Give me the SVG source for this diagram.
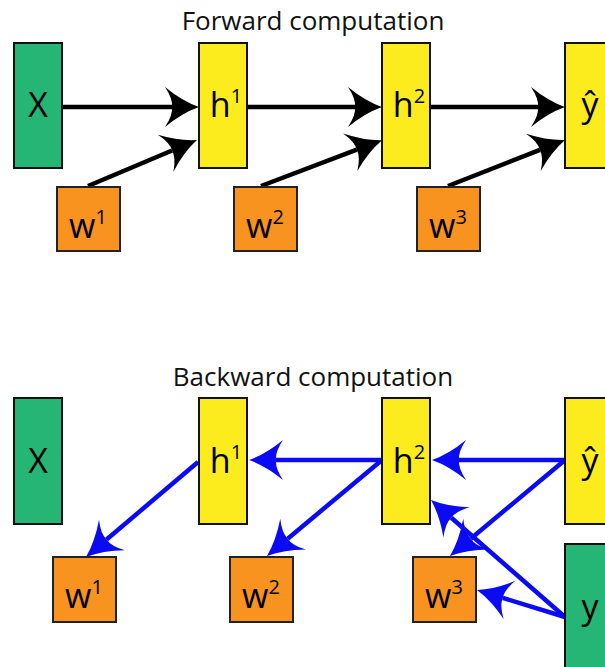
<svg xmlns="http://www.w3.org/2000/svg" width="605" height="667" viewBox="0 0 605 667">
<style>
.title{font-family:"Open Sans","Liberation Sans",sans-serif;font-size:26px;fill:#111;text-anchor:middle}
.lbl{font-family:"Open Sans","Liberation Sans",sans-serif;font-size:34px;fill:#000;text-anchor:middle}
.sup{font-size:20px}
.green{fill:#25b574;stroke:#111;stroke-width:2}
.yellow{fill:#fcec1e;stroke:#111;stroke-width:2}
.orange{fill:#f7931e;stroke:#222;stroke-width:2}
.fw{stroke:#000;stroke-width:4.5;fill:none;marker-end:url(#ab)}
.bw{stroke:#0a0af5;stroke-width:4.5;fill:none;marker-end:url(#au)}
</style>
<defs>
<marker id="ab" markerUnits="userSpaceOnUse" orient="auto" refX="0" refY="0" markerWidth="40" markerHeight="44" viewBox="-8 -22 40 44" overflow="visible">
<path d="M27 0 Q10 -6 -7 -20 Q1 -8 0 0 Q1 8 -7 20 Q10 6 27 0 Z" fill="#000"/>
</marker>
<marker id="au" markerUnits="userSpaceOnUse" orient="auto" refX="0" refY="0" markerWidth="40" markerHeight="44" viewBox="-8 -22 40 44" overflow="visible">
<path d="M27 0 Q10 -6 -7 -20 Q1 -8 0 0 Q1 8 -7 20 Q10 6 27 0 Z" fill="#0a0af5"/>
</marker>
</defs>

<text class="title" x="313" y="30">Forward computation</text>
<text class="title" x="313" y="386">Backward computation</text>

<g id="connectors">
<line class="fw" x1="62" y1="107" x2="172" y2="107"/>
<line class="fw" x1="247" y1="107" x2="355" y2="107"/>
<line class="fw" x1="430" y1="107" x2="538" y2="107"/>
<line class="fw" x1="88" y1="186" x2="172.1" y2="150.5"/>
<line class="fw" x1="261" y1="186" x2="356.8" y2="149.7"/>
<line class="fw" x1="448" y1="186" x2="539.9" y2="149.9"/>

<line class="bw" x1="565" y1="460" x2="459" y2="460"/>
<line class="bw" x1="382" y1="460" x2="276" y2="460"/>
<line class="bw" x1="198" y1="462" x2="106.6" y2="539.5"/>
<line class="bw" x1="382" y1="460" x2="287.7" y2="538.7"/>
<line class="bw" x1="565" y1="460" x2="470.7" y2="538.7"/>
<line class="bw" x1="565" y1="617" x2="451.3" y2="517.8"/>
<line class="bw" x1="565" y1="617" x2="502.8" y2="597.9"/>
</g>

<g id="f-x"><rect class="green" x="14" y="43" width="48" height="125"/><text class="lbl" x="38" y="117">X</text></g>
<g id="f-h1"><rect class="yellow" x="199" y="43" width="48" height="125"/><text class="lbl" x="226" y="117">h<tspan class="sup" dy="-14">1</tspan></text></g>
<g id="f-h2"><rect class="yellow" x="382" y="43" width="48" height="125"/><text class="lbl" x="409" y="117">h<tspan class="sup" dy="-14">2</tspan></text></g>
<g id="f-yhat"><rect class="yellow" x="565" y="43" width="48" height="125"/><text class="lbl" x="590" y="117">ŷ</text></g>
<g id="f-w1"><rect class="orange" x="57" y="187" width="63" height="64"/><text class="lbl" x="88" y="238">w<tspan class="sup" dy="-14">1</tspan></text></g>
<g id="f-w2"><rect class="orange" x="234" y="187" width="63" height="64"/><text class="lbl" x="265" y="238">w<tspan class="sup" dy="-14">2</tspan></text></g>
<g id="f-w3"><rect class="orange" x="417" y="187" width="63" height="64"/><text class="lbl" x="448" y="238">w<tspan class="sup" dy="-14">3</tspan></text></g>

<g id="b-x"><rect class="green" x="14" y="398" width="48" height="126"/><text class="lbl" x="38" y="473">X</text></g>
<g id="b-h1"><rect class="yellow" x="199" y="398" width="48" height="126"/><text class="lbl" x="226" y="473">h<tspan class="sup" dy="-14">1</tspan></text></g>
<g id="b-h2"><rect class="yellow" x="382" y="398" width="48" height="126"/><text class="lbl" x="409" y="473">h<tspan class="sup" dy="-14">2</tspan></text></g>
<g id="b-yhat"><rect class="yellow" x="565" y="398" width="48" height="126"/><text class="lbl" x="590" y="473">ŷ</text></g>
<g id="b-y"><rect class="green" x="565" y="544" width="48" height="140"/><text class="lbl" x="590" y="619">y</text></g>
<g id="b-w1"><rect class="orange" x="53" y="557" width="63" height="65"/><text class="lbl" x="84" y="608">w<tspan class="sup" dy="-14">1</tspan></text></g>
<g id="b-w2"><rect class="orange" x="230" y="557" width="63" height="65"/><text class="lbl" x="261" y="608">w<tspan class="sup" dy="-14">2</tspan></text></g>
<g id="b-w3"><rect class="orange" x="413" y="557" width="63" height="65"/><text class="lbl" x="444" y="608">w<tspan class="sup" dy="-14">3</tspan></text></g>
</svg>
